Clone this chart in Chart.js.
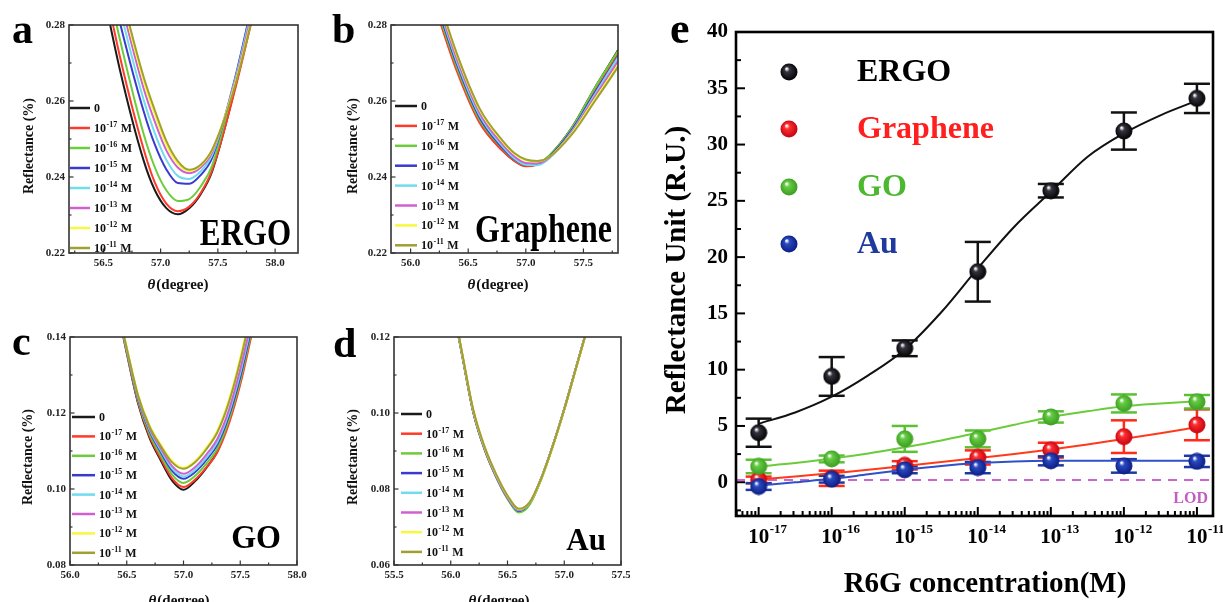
<!DOCTYPE html>
<html>
<head>
<meta charset="utf-8">
<script src="https://cdn.jsdelivr.net/npm/chart.js@4.4.0/dist/chart.umd.min.js"></script>
<style>
  body { margin: 0; background: #fff; width: 1223px; height: 602px; overflow: hidden; position: relative; }
  canvas { position: absolute; }
</style>
</head>
<body>
<canvas id="pa" width="310" height="300" style="left:0;top:0"></canvas>
<canvas id="pb" width="320" height="300" style="left:310px;top:0"></canvas>
<canvas id="pc" width="310" height="302" style="left:0;top:300px"></canvas>
<canvas id="pd" width="320" height="302" style="left:310px;top:300px"></canvas>
<canvas id="pe" width="593" height="602" style="left:630px;top:0"></canvas>
<script>
// ---- data: SPR curves (panels a-d) ----
const legendExps = ["0", "-17", "-16", "-15", "-14", "-13", "-12", "-11"]
const curveColors = ["#1a1a1a", "#ff3a2a", "#6ccc3a", "#3a3ad0", "#6fdcf0", "#d060d0", "#f8f840", "#a0a030"]

const ergoTheta = [56.45, 56.65, 56.85, 56.95, 57.05, 57.15, 57.25, 57.35, 57.45, 57.65, 57.85]
const ergoR = [
  [0.2960, 0.2675, 0.2445, 0.2365, 0.2318, 0.2302, 0.2318, 0.2355, 0.2415, 0.2635, 0.2890],
  [0.2995, 0.2710, 0.2475, 0.2385, 0.2330, 0.2310, 0.2322, 0.2358, 0.2418, 0.2630, 0.2880],
  [0.3030, 0.2755, 0.2515, 0.2425, 0.2365, 0.2337, 0.2342, 0.2375, 0.2430, 0.2655, 0.2920],
  [0.3060, 0.2800, 0.2575, 0.2485, 0.2420, 0.2384, 0.2382, 0.2405, 0.2450, 0.2660, 0.2925],
  [0.3090, 0.2835, 0.2605, 0.2515, 0.2445, 0.2403, 0.2395, 0.2415, 0.2458, 0.2655, 0.2915],
  [0.3120, 0.2865, 0.2635, 0.2545, 0.2470, 0.2425, 0.2410, 0.2425, 0.2465, 0.2650, 0.2900],
  [0.3145, 0.2885, 0.2655, 0.2565, 0.2485, 0.2435, 0.2416, 0.2430, 0.2470, 0.2645, 0.2885],
  [0.3160, 0.2895, 0.2665, 0.2575, 0.2495, 0.2442, 0.2419, 0.2432, 0.2472, 0.2640, 0.2880]
]

const grapheneTheta = [56.2, 56.4, 56.6, 56.8, 56.9, 57.0, 57.1, 57.2, 57.4, 57.6, 57.8, 57.9]
const grapheneR = [
  [0.2865, 0.2685, 0.2545, 0.2470, 0.2443, 0.2429, 0.2434, 0.2455, 0.2530, 0.2635, 0.2734, 0.2790],
  [0.2860, 0.2680, 0.2542, 0.2468, 0.2442, 0.2428, 0.2433, 0.2452, 0.2525, 0.2625, 0.2725, 0.2780],
  [0.2870, 0.2690, 0.2550, 0.2474, 0.2446, 0.2432, 0.2435, 0.2455, 0.2530, 0.2635, 0.2732, 0.2785],
  [0.2880, 0.2698, 0.2556, 0.2476, 0.2447, 0.2432, 0.2434, 0.2452, 0.2524, 0.2622, 0.2718, 0.2770],
  [0.2888, 0.2705, 0.2562, 0.2480, 0.2449, 0.2432, 0.2431, 0.2448, 0.2520, 0.2618, 0.2715, 0.2765],
  [0.2895, 0.2712, 0.2568, 0.2485, 0.2454, 0.2437, 0.2436, 0.2450, 0.2518, 0.2612, 0.2705, 0.2755],
  [0.2905, 0.2722, 0.2576, 0.2492, 0.2461, 0.2444, 0.2441, 0.2452, 0.2515, 0.2605, 0.2695, 0.2745],
  [0.2910, 0.2726, 0.2580, 0.2495, 0.2463, 0.2446, 0.2442, 0.2452, 0.2512, 0.2600, 0.2690, 0.2740]
]

const goTheta = [56.4, 56.5, 56.6, 56.7, 56.8, 56.9, 57.0, 57.1, 57.2, 57.3, 57.4, 57.5, 57.6]
const goR = [
  [0.1500, 0.1358, 0.1225, 0.1135, 0.1075, 0.1022, 0.0998, 0.1020, 0.1055, 0.1100, 0.1183, 0.1295, 0.1425],
  [0.1500, 0.1360, 0.1228, 0.1140, 0.1080, 0.1028, 0.1005, 0.1024, 0.1056, 0.1098, 0.1172, 0.1275, 0.1405],
  [0.1500, 0.1362, 0.1232, 0.1146, 0.1088, 0.1038, 0.1016, 0.1034, 0.1066, 0.1108, 0.1182, 0.1285, 0.1415],
  [0.1502, 0.1365, 0.1237, 0.1153, 0.1097, 0.1048, 0.1027, 0.1044, 0.1076, 0.1118, 0.1192, 0.1295, 0.1425],
  [0.1503, 0.1367, 0.1240, 0.1157, 0.1102, 0.1054, 0.1033, 0.1050, 0.1082, 0.1125, 0.1200, 0.1305, 0.1435],
  [0.1504, 0.1369, 0.1243, 0.1161, 0.1107, 0.1060, 0.1040, 0.1057, 0.1090, 0.1133, 0.1208, 0.1315, 0.1445],
  [0.1506, 0.1372, 0.1248, 0.1168, 0.1117, 0.1074, 0.1056, 0.1073, 0.1108, 0.1155, 0.1235, 0.1345, 0.1480],
  [0.1505, 0.1370, 0.1246, 0.1165, 0.1113, 0.1070, 0.1053, 0.1070, 0.1104, 0.1150, 0.1228, 0.1337, 0.1470]
]

const auTheta = [56.0, 56.1, 56.2, 56.3, 56.4, 56.5, 56.6, 56.7, 56.8, 56.9, 57.0, 57.1, 57.2]
const auR = [
  [0.1310, 0.1153, 0.1000, 0.0903, 0.0832, 0.0776, 0.0741, 0.0764, 0.0829, 0.0914, 0.1010, 0.1115, 0.1220],
  [0.1312, 0.1155, 0.1002, 0.0905, 0.0834, 0.0778, 0.0743, 0.0765, 0.0830, 0.0915, 0.1011, 0.1116, 0.1221],
  [0.1308, 0.1151, 0.0999, 0.0902, 0.0831, 0.0774, 0.0738, 0.0761, 0.0827, 0.0913, 0.1009, 0.1114, 0.1219],
  [0.1311, 0.1154, 0.1001, 0.0904, 0.0833, 0.0777, 0.0742, 0.0765, 0.0830, 0.0915, 0.1010, 0.1115, 0.1220],
  [0.1313, 0.1156, 0.1003, 0.0906, 0.0835, 0.0779, 0.0744, 0.0766, 0.0831, 0.0916, 0.1011, 0.1116, 0.1221],
  [0.1312, 0.1155, 0.1003, 0.0906, 0.0835, 0.0779, 0.0745, 0.0767, 0.0831, 0.0915, 0.1010, 0.1115, 0.1220],
  [0.1314, 0.1158, 0.1006, 0.0909, 0.0838, 0.0782, 0.0747, 0.0766, 0.0829, 0.0913, 0.1008, 0.1113, 0.1218],
  [0.1315, 0.1159, 0.1007, 0.0910, 0.0839, 0.0783, 0.0748, 0.0767, 0.0830, 0.0914, 0.1009, 0.1114, 0.1219]
]

// tick labels of the small panels
const ergoXTicks = [56.5, 57.0, 57.5, 58.0]
const grapheneXTicks = [56.0, 56.5, 57.0, 57.5]
const goXTicks = [56.0, 56.5, 57.0, 57.5, 58.0]
const auXTicks = [55.5, 56.0, 56.5, 57.0, 57.5]
const refl28Ticks = [0.22, 0.24, 0.26, 0.28]
const refl14Ticks = [0.08, 0.10, 0.12, 0.14]
const refl12Ticks = [0.06, 0.08, 0.10, 0.12]

// ---- data: panel e ----
const conc = [1e-17, 1e-16, 1e-15, 1e-14, 1e-13, 1e-12, 1e-11]
const ergoRU = [4.4, 9.4, 11.9, 18.7, 25.9, 31.2, 34.1]
const ergoErr = [1.25, 1.72, 0.7, 2.65, 0.6, 1.65, 1.3]
const grapheneRU = [0.2, 0.35, 1.5, 2.2, 2.85, 4.05, 5.1]
const grapheneErr = [0.3, 0.68, 0.37, 0.63, 0.66, 1.45, 1.37]
const goRU = [1.4, 2.07, 3.85, 3.85, 5.8, 7.0, 7.15]
const goErr = [0.6, 0.3, 1.15, 0.75, 0.5, 0.8, 0.6]
const auRU = [-0.38, 0.27, 1.1, 1.3, 1.9, 1.45, 1.85]
const auErr = [0.3, 0.3, 0.3, 0.5, 0.4, 0.6, 0.5]

const fitConc = [1e-17, 3.16e-17, 1e-16, 3.16e-16, 1e-15, 3.16e-15, 1e-14, 3.16e-14, 1e-13, 3.16e-13, 1e-12, 3.16e-12, 1e-11]
const ergoFit = [5.2, 6.2, 7.6, 9.5, 11.8, 15.1, 19.0, 22.7, 25.8, 28.9, 31.0, 32.6, 33.9]
const grapheneFit = [0.25, 0.5, 0.8, 1.1, 1.45, 1.8, 2.15, 2.5, 2.9, 3.35, 3.85, 4.35, 4.9]
const goFit = [1.4, 1.7, 2.1, 2.55, 3.1, 3.7, 4.4, 5.1, 5.8, 6.3, 6.75, 7.0, 7.2]
const auFit = [-0.3, 0.0, 0.3, 0.7, 1.1, 1.45, 1.7, 1.85, 1.9, 1.9, 1.9, 1.9, 1.9]
const lodLevel = 0.2

const ruTicks = [0, 5, 10, 15, 20, 25, 30, 35, 40]
const concTickExps = [-17, -16, -15, -14, -13, -12, -11]

const SERIF = '"Liberation Serif", "DejaVu Serif", serif'

function line(ctx, x1, y1, x2, y2) {
  ctx.beginPath(); ctx.moveTo(x1, y1); ctx.lineTo(x2, y2); ctx.stroke()
}

// "10" with a raised exponent and an optional tail
function supText(ctx, base, sup, tail, x, y, size, supSize, rise, centerBase) {
  const big = `bold ${size}px ${SERIF}`, small = `bold ${supSize}px ${SERIF}`
  ctx.font = big
  const w1 = ctx.measureText(base).width
  ctx.font = small
  const w2 = ctx.measureText(sup).width
  const x0 = centerBase ? x - w1 / 2 : x
  ctx.textAlign = 'left'
  ctx.font = big; ctx.fillText(base, x0, y)
  ctx.font = small; ctx.fillText(sup, x0 + w1 + 0.5, y - rise)
  if (tail) { ctx.font = big; ctx.fillText(tail, x0 + w1 + w2 + 1, y) }
}

function halfSteps(ticks, lo, hi) {
  const step = ticks[1] - ticks[0]
  const out = []
  for (let v = ticks[0] - step / 2; v <= hi + 1e-9; v += step) if (v >= lo - 1e-9) out.push(v)
  return out
}

function drawSmall(chart, cfg) {
  const { ctx, chartArea: a } = chart
  const x = chart.scales.x, y = chart.scales.y
  ctx.save()
  ctx.strokeStyle = '#333'; ctx.fillStyle = '#222'; ctx.lineWidth = 1.2
  halfSteps(cfg.xTicks, cfg.xMin, cfg.xMax).forEach(v => {
    const px = x.getPixelForValue(v); line(ctx, px, a.bottom, px, a.bottom - 2.5)
  })
  halfSteps(cfg.yTicks, cfg.yMin, cfg.yMax).forEach(v => {
    const py = y.getPixelForValue(v); line(ctx, a.left, py, a.left + 2.5, py)
  })
  ctx.font = `bold 11px ${SERIF}`
  ctx.textAlign = 'center'; ctx.textBaseline = 'alphabetic'
  cfg.xTicks.forEach(v => {
    const px = x.getPixelForValue(v)
    line(ctx, px, a.bottom, px, a.bottom - 4.5)
    ctx.fillText(v.toFixed(1), px, a.bottom + 13)
  })
  ctx.textAlign = 'right'; ctx.textBaseline = 'middle'
  cfg.yTicks.forEach(v => {
    const py = y.getPixelForValue(v)
    line(ctx, a.left, py, a.left + 4.5, py)
    ctx.fillText(v.toFixed(2), a.left - 4, py)
  })
  ctx.lineWidth = 1.6; ctx.strokeStyle = '#333'
  ctx.strokeRect(a.left, a.top, a.right - a.left, a.bottom - a.top)

  // axis titles
  ctx.fillStyle = '#111'
  ctx.save()
  ctx.translate(cfg.yTitle[0], cfg.yTitle[1]); ctx.rotate(-Math.PI / 2)
  ctx.font = `bold 14px ${SERIF}`; ctx.textAlign = 'center'; ctx.textBaseline = 'middle'
  ctx.fillText('Reflectance (%)', 0, 0)
  ctx.restore()
  ctx.textBaseline = 'alphabetic'; ctx.textAlign = 'left'
  ctx.font = `italic bold 15px ${SERIF}`
  const wt = ctx.measureText('θ').width
  ctx.font = `bold 15px ${SERIF}`
  const wd = ctx.measureText('(degree)').width
  const x0 = cfg.xTitle[0] - (wt + wd + 1) / 2
  ctx.font = `italic bold 15px ${SERIF}`; ctx.fillText('θ', x0, cfg.xTitle[1])
  ctx.font = `bold 15px ${SERIF}`; ctx.fillText('(degree)', x0 + wt + 1, cfg.xTitle[1])

  // panel letter
  ctx.font = `bold 42px ${SERIF}`; ctx.fillStyle = '#000'
  ctx.fillText(cfg.letter, cfg.letterPos[0], cfg.letterPos[1])

  // legend
  legendExps.forEach((e, i) => {
    const ly = cfg.legend.y + i * cfg.legend.dy
    ctx.strokeStyle = curveColors[i]; ctx.lineWidth = 2.5
    line(ctx, cfg.legend.x, ly, cfg.legend.x + cfg.legend.w, ly)
    ctx.fillStyle = '#111'; ctx.textBaseline = 'alphabetic'
    const tx = cfg.legend.x + cfg.legend.w + 4
    if (e === '0') {
      ctx.font = `bold 12px ${SERIF}`; ctx.textAlign = 'left'; ctx.fillText('0', tx, ly + 4)
    } else {
      supText(ctx, '10', e, ' M', tx, ly + 4, 12, 8, 5, false)
    }
  })

  // material name
  ctx.save()
  ctx.translate(cfg.name.x, cfg.name.y); ctx.scale(1, cfg.name.sy)
  ctx.font = `bold ${cfg.name.size}px ${SERIF}`; ctx.textAlign = 'right'; ctx.textBaseline = 'alphabetic'
  ctx.fillStyle = '#000'
  ctx.fillText(cfg.name.text, 0, 0)
  ctx.restore()
  ctx.restore()
}

function smallPanel(id, theta, curves, cfg) {
  return new Chart(document.getElementById(id), {
    type: 'line',
    data: {
      datasets: curves.map((ys, i) => ({
        data: theta.map((t, j) => ({ x: t, y: ys[j] })),
        borderColor: curveColors[i],
        borderWidth: 2,
        pointRadius: 0,
        cubicInterpolationMode: 'monotone',
        order: 8 - i
      }))
    },
    options: {
      responsive: false, animation: false, events: [],
      layout: { padding: cfg.pad },
      plugins: { legend: { display: false }, tooltip: { enabled: false } },
      scales: {
        x: { type: 'linear', min: cfg.xMin, max: cfg.xMax, display: false },
        y: { type: 'linear', min: cfg.yMin, max: cfg.yMax, display: false }
      }
    },
    plugins: [{ id: 'deco', afterDraw(chart) { drawSmall(chart, cfg) } }]
  })
}

smallPanel('pa', ergoTheta, ergoR, {
  pad: { left: 69, right: 12, top: 25, bottom: 47 },
  xMin: 56.2, xMax: 58.2, yMin: 0.22, yMax: 0.28,
  xTicks: ergoXTicks, yTicks: refl28Ticks,
  yTitle: [29, 146], xTitle: [178, 289],
  letter: 'a', letterPos: [12, 43],
  legend: { x: 70, w: 20, y: 108, dy: 20 },
  name: { text: 'ERGO', x: 291, y: 245, size: 31, sy: 1.25 }
})
smallPanel('pb', grapheneTheta, grapheneR, {
  pad: { left: 81, right: 12, top: 25, bottom: 47 },
  xMin: 55.83, xMax: 57.8, yMin: 0.22, yMax: 0.28,
  xTicks: grapheneXTicks, yTicks: refl28Ticks,
  yTitle: [43, 146], xTitle: [188, 289],
  letter: 'b', letterPos: [22, 43],
  legend: { x: 85, w: 22, y: 106, dy: 19.9 },
  name: { text: 'Graphene', x: 302, y: 242, size: 32, sy: 1.22 }
})
smallPanel('pc', goTheta, goR, {
  pad: { left: 70, right: 13, top: 37, bottom: 37 },
  xMin: 56.0, xMax: 58.0, yMin: 0.08, yMax: 0.14,
  xTicks: goXTicks, yTicks: refl14Ticks,
  yTitle: [28, 157], xTitle: [179, 305],
  letter: 'c', letterPos: [12, 55],
  legend: { x: 72, w: 23, y: 117, dy: 19.4 },
  name: { text: 'GO', x: 281, y: 248, size: 32, sy: 1.05 }
})
smallPanel('pd', auTheta, auR, {
  pad: { left: 84, right: 9, top: 37, bottom: 37 },
  xMin: 55.5, xMax: 57.5, yMin: 0.06, yMax: 0.12,
  xTicks: auXTicks, yTicks: refl12Ticks,
  yTitle: [43, 157], xTitle: [189, 305],
  letter: 'd', letterPos: [23, 57],
  legend: { x: 91, w: 21, y: 114, dy: 19.7 },
  name: { text: 'Au', x: 296, y: 250, size: 31, sy: 1.05 }
})

// ---- panel e ----
function sphere(mid, dark, r) {
  const c = document.createElement('canvas')
  c.width = c.height = r * 2
  const g = c.getContext('2d')
  const grad = g.createRadialGradient(r * 0.72, r * 0.62, r * 0.06, r, r, r)
  grad.addColorStop(0, '#ffffff')
  grad.addColorStop(0.25, mid)
  grad.addColorStop(1, dark)
  g.fillStyle = grad
  g.beginPath(); g.arc(r, r, r - 0.5, 0, Math.PI * 2); g.fill()
  return c
}

const series = [
  { name: 'ERGO', vals: ergoRU, err: ergoErr, fit: ergoFit, color: '#111111', text: '#000000', ball: sphere('#34343f', '#000000', 9), order: 0 },
  { name: 'Graphene', vals: grapheneRU, err: grapheneErr, fit: grapheneFit, color: '#ff2a1a', text: '#ff1f1f', ball: sphere('#ff3030', '#c00010', 9), order: 3 },
  { name: 'GO', vals: goRU, err: goErr, fit: goFit, color: '#5cc034', text: '#4cb830', ball: sphere('#66cc44', '#3a9a20', 9), order: 2 },
  { name: 'Au', vals: auRU, err: auErr, fit: auFit, color: '#1e3aa0', text: '#1e3a9e', ball: sphere('#2a4ac0', '#0a1a80', 9), order: 1 }
]
const fitColors = ['#111111', '#ff3a1a', '#6acc3a', '#3050c8']

const eMin = Math.pow(10, -17.31), eMax = Math.pow(10, -10.78)

const panelE = {
  id: 'panelE',
  beforeDatasetsDraw(chart) {
    const { ctx, chartArea: a } = chart
    const x = chart.scales.x, y = chart.scales.y
    ctx.save()
    // LOD line
    ctx.strokeStyle = '#cc66cc'; ctx.lineWidth = 2; ctx.setLineDash([9, 7])
    const ly = y.getPixelForValue(lodLevel)
    line(ctx, a.left, ly, a.right, ly)
    ctx.setLineDash([])
    // error bars
    series.forEach(s => {
      ctx.strokeStyle = s.color; ctx.lineWidth = 2.5
      s.vals.forEach((v, i) => {
        const px = x.getPixelForValue(conc[i])
        const t = y.getPixelForValue(v + s.err[i]), b = y.getPixelForValue(v - s.err[i])
        line(ctx, px, t, px, b)
        line(ctx, px - 13, t, px + 13, t)
        line(ctx, px - 13, b, px + 13, b)
      })
    })
    ctx.restore()
  },
  afterDraw(chart) {
    const { ctx, chartArea: a } = chart
    const x = chart.scales.x, y = chart.scales.y
    ctx.save()
    ctx.strokeStyle = '#000'; ctx.fillStyle = '#000'; ctx.lineWidth = 2
    // y ticks
    for (let v = -2.5; v <= 40; v += 2.5) {
      const py = y.getPixelForValue(v)
      const major = ruTicks.includes(v)
      line(ctx, a.left, py, a.left + (major ? 9 : 5), py)
    }
    ctx.font = `bold 21px ${SERIF}`; ctx.textAlign = 'right'; ctx.textBaseline = 'middle'
    ruTicks.forEach(v => ctx.fillText(String(v), a.left - 8, y.getPixelForValue(v)))
    // x ticks
    for (let e = -18; e <= -11; e++) {
      for (let k = 1; k <= 9; k++) {
        const val = k * Math.pow(10, e)
        if (val < eMin || val > eMax) continue
        const px = x.getPixelForValue(val)
        line(ctx, px, a.bottom, px, a.bottom - (k === 1 ? 9 : 5))
      }
    }
    ctx.textBaseline = 'alphabetic'
    concTickExps.forEach(e => {
      const px = x.getPixelForValue(Math.pow(10, e))
      supText(ctx, '10', String(e), '', px, a.bottom + 27, 21, 13, 10, true)
    })
    // frame
    ctx.lineWidth = 2.6
    ctx.strokeRect(a.left, a.top, a.right - a.left, a.bottom - a.top)
    // LOD text
    ctx.fillStyle = '#c45cc4'; ctx.font = `bold 16px ${SERIF}`; ctx.textAlign = 'right'
    ctx.fillText('LOD', a.right - 5, 503)
    // titles
    ctx.fillStyle = '#000'
    ctx.save()
    ctx.translate(48, 270); ctx.rotate(-Math.PI / 2)
    ctx.font = `bold 29px ${SERIF}`; ctx.textAlign = 'center'; ctx.textBaseline = 'middle'
    ctx.fillText('Reflectance Unit (R.U.)', 0, 0)
    ctx.restore()
    ctx.font = `bold 29px ${SERIF}`; ctx.textAlign = 'center'; ctx.textBaseline = 'alphabetic'
    ctx.fillText('R6G concentration(M)', 355, 592)
    ctx.font = `bold 44px ${SERIF}`; ctx.textAlign = 'left'
    ctx.fillText('e', 40, 43)
    // legend
    const rows = [72, 129, 187, 244]
    ctx.font = `bold 32px ${SERIF}`; ctx.textBaseline = 'middle'
    series.forEach((s, i) => {
      ctx.drawImage(s.ball, 159 - 9, rows[i] - 9)
      ctx.fillStyle = s.text
      ctx.fillText(s.name, 227, rows[i] + 1)
    })
    ctx.restore()
  }
}

const eDatasets = []
series.forEach((s, i) => {
  eDatasets.push({
    data: fitConc.map((c, j) => ({ x: c, y: s.fit[j] })),
    borderColor: fitColors[i], borderWidth: 2, pointRadius: 0,
    cubicInterpolationMode: 'monotone', order: 10 + i
  })
  eDatasets.push({
    data: conc.map((c, j) => ({ x: c, y: s.vals[j] })),
    showLine: false, pointStyle: s.ball, pointRadius: 9, order: s.order
  })
})

new Chart(document.getElementById('pe'), {
  type: 'line',
  data: { datasets: eDatasets },
  options: {
    responsive: false, animation: false, events: [],
    layout: { padding: { left: 106, right: 10, top: 32, bottom: 86 } },
    plugins: { legend: { display: false }, tooltip: { enabled: false } },
    scales: {
      x: { type: 'logarithmic', min: eMin, max: eMax, display: false },
      y: { type: 'linear', min: -3, max: 40, display: false }
    }
  },
  plugins: [panelE]
})
</script>
</body>
</html>
